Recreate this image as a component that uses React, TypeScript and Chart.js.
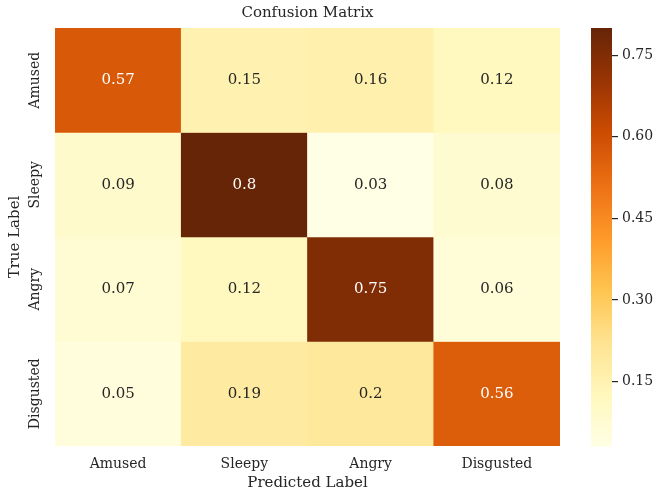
import React, { useEffect, useRef } from 'react';
import { Chart, registerables } from 'chart.js';

Chart.register(...registerables);

const chartTitle = 'Confusion Matrix';
const xAxisTitle = 'Predicted Label';
const yAxisTitle = 'True Label';
const trueLabels = ['Amused', 'Sleepy', 'Angry', 'Disgusted'];
const predictedLabels = ['Amused', 'Sleepy', 'Angry', 'Disgusted'];
const rowAmused = [0.57, 0.15, 0.16, 0.12];
const rowSleepy = [0.09, 0.8, 0.03, 0.08];
const rowAngry = [0.07, 0.12, 0.75, 0.06];
const rowDisgusted = [0.05, 0.19, 0.2, 0.56];
const colorbarTicks = [0.15, 0.3, 0.45, 0.6, 0.75];

const matrix = [rowAmused, rowSleepy, rowAngry, rowDisgusted];
const allValues = matrix.flat();
const vmin = Math.min(...allValues);
const vmax = Math.max(...allValues);

const FONT = "'DejaVu Serif', serif";
const TEXT = '#262626';
const TICK_SIZE = 14;
const TITLE_SIZE = 15;
const ANNOT_SIZE = 15;

const YLORBR = [
  [255, 255, 229], [255, 247, 188], [254, 227, 145], [254, 196, 79], [254, 153, 41],
  [236, 112, 20], [204, 76, 2], [153, 52, 4], [102, 37, 6],
];

function cmapRGB(v: number): number[] {
  let t = (v - vmin) / (vmax - vmin);
  t = Math.max(0, Math.min(1, t));
  const s = t * (YLORBR.length - 1);
  const i = Math.min(Math.floor(s), YLORBR.length - 2);
  const f = s - i;
  const a = YLORBR[i], b = YLORBR[i + 1];
  return [0, 1, 2].map((k) => a[k] + (b[k] - a[k]) * f);
}
function cmap(v: number): string {
  const [r, g, b] = cmapRGB(v);
  return `rgb(${Math.round(r)},${Math.round(g)},${Math.round(b)})`;
}
function textColorFor(v: number): string {
  const lin = cmapRGB(v).map((c) => {
    const x = c / 255;
    return x <= 0.03928 ? x / 12.92 : Math.pow((x + 0.055) / 1.055, 2.4);
  });
  const lum = 0.2126 * lin[0] + 0.7152 * lin[1] + 0.0722 * lin[2];
  return lum > 0.408 ? TEXT : '#ffffff';
}

const annotationPlugin = {
  id: 'cellAnnotations',
  afterDatasetsDraw(chart: any) {
    const ctx = chart.ctx;
    ctx.save();
    ctx.font = `${ANNOT_SIZE}px ${FONT}`;
    ctx.textAlign = 'center';
    ctx.textBaseline = 'middle';
    chart.data.datasets.forEach((ds: any, r: number) => {
      const meta = chart.getDatasetMeta(r);
      meta.data.forEach((el: any, c: number) => {
        const p = el.getProps(['x', 'y', 'base'], true);
        const v = matrix[r][c];
        ctx.fillStyle = textColorFor(v);
        ctx.fillText(String(v), p.x, (p.y + p.base) / 2);
      });
    });
    ctx.restore();
  },
};

const gradientPlugin = {
  id: 'colorbarGradient',
  beforeDatasetsDraw(chart: any) {
    const { ctx, chartArea } = chart;
    const ys = chart.scales.y;
    const y0 = ys.getPixelForValue(vmin);
    const y1 = ys.getPixelForValue(vmax);
    const g = ctx.createLinearGradient(0, y0, 0, y1);
    const n = 40;
    for (let i = 0; i <= n; i++) {
      g.addColorStop(i / n, cmap(vmin + ((vmax - vmin) * i) / n));
    }
    ctx.save();
    ctx.fillStyle = g;
    ctx.fillRect(chartArea.left, y1, chartArea.right - chartArea.left, y0 - y1);
    ctx.restore();
  },
};

export default function App() {
  const mainRef = useRef<HTMLCanvasElement>(null);
  const cbRef = useRef<HTMLCanvasElement>(null);

  useEffect(() => {
    const mctx = document.createElement('canvas').getContext('2d')!;
    mctx.font = `${TICK_SIZE}px ${FONT}`;
    const widest = Math.max(...trueLabels.map((l) => mctx.measureText(l).width));
    const yTickPad = 20 - widest / 2;

    const main = new Chart(mainRef.current!, {
      type: 'bar',
      data: {
        labels: predictedLabels,
        datasets: matrix.map((row, r) => ({
          label: trueLabels[r],
          data: row.map(() => 1),
          backgroundColor: row.map((v) => cmap(v)),
          borderWidth: 0,
          barPercentage: 1,
          categoryPercentage: 1,
        })),
      },
      options: {
        responsive: false,
        animation: false,
        layout: { padding: 0 },
        plugins: {
          legend: { display: false },
          tooltip: { enabled: false },
          title: {
            display: true,
            text: chartTitle,
            fullSize: false,
            color: TEXT,
            font: { family: FONT, size: TITLE_SIZE, weight: 'normal' },
            padding: { top: 4, bottom: 6 },
          },
        },
        scales: {
          x: {
            stacked: true,
            grid: { display: false, drawTicks: false },
            border: { display: false },
            ticks: {
              color: TEXT,
              font: { family: FONT, size: TICK_SIZE },
              padding: 9.6,
              maxRotation: 0,
              autoSkip: false,
            },
            title: {
              display: true,
              text: xAxisTitle,
              color: TEXT,
              font: { family: FONT, size: TITLE_SIZE },
              padding: { top: 2, bottom: 9 },
            },
            afterFit: (s: any) => { s.height = 55; },
          },
          y: {
            stacked: true,
            type: 'linear',
            min: 0,
            max: 4,
            reverse: true,
            grid: { display: false, drawTicks: false },
            border: { display: false },
            afterBuildTicks: (s: any) => {
              s.ticks = trueLabels.map((_, i) => ({ value: i + 0.5 }));
            },
            ticks: {
              color: TEXT,
              font: { family: FONT, size: TICK_SIZE },
              minRotation: 90,
              maxRotation: 90,
              crossAlign: 'center',
              padding: yTickPad,
              autoSkip: false,
              callback: (v: any) => trueLabels[Math.floor(Number(v))],
            },
            title: {
              display: true,
              text: yAxisTitle,
              color: TEXT,
              font: { family: FONT, size: TITLE_SIZE },
              padding: { top: 6, bottom: 10 },
            },
            afterFit: (s: any) => { s.width = 55; },
          },
        },
      } as any,
      plugins: [annotationPlugin],
    });

    const cb = new Chart(cbRef.current!, {
      type: 'scatter',
      data: { datasets: [] },
      options: {
        responsive: false,
        animation: false,
        layout: { padding: { left: 31, top: 28, bottom: 54.3, right: 0 } },
        plugins: { legend: { display: false }, tooltip: { enabled: false } },
        scales: {
          x: { display: false, min: 0, max: 1 },
          y: {
            type: 'linear',
            position: 'right',
            min: vmin,
            max: vmax,
            afterBuildTicks: (s: any) => {
              s.ticks = colorbarTicks.map((v) => ({ value: v }));
            },
            grid: {
              drawOnChartArea: false,
              drawTicks: true,
              tickLength: 6,
              color: TEXT,
              lineWidth: 1.2,
            },
            border: { display: false },
            ticks: {
              color: TEXT,
              font: { family: FONT, size: TICK_SIZE },
              padding: 4,
              callback: (v: any) => Number(v).toFixed(2),
            },
            afterFit: (s: any) => { s.width = 52; },
          },
        },
      } as any,
      plugins: [gradientPlugin],
    });

    return () => {
      main.destroy();
      cb.destroy();
    };
  }, []);

  return (
    <div style={{ position: 'fixed', left: 0, top: 0, width: 664, height: 501, background: '#ffffff' }}>
      <canvas ref={mainRef} width={560} height={501} style={{ position: 'absolute', left: 0, top: 0 }} />
      <canvas ref={cbRef} width={104} height={501} style={{ position: 'absolute', left: 560, top: 0 }} />
    </div>
  );
}
